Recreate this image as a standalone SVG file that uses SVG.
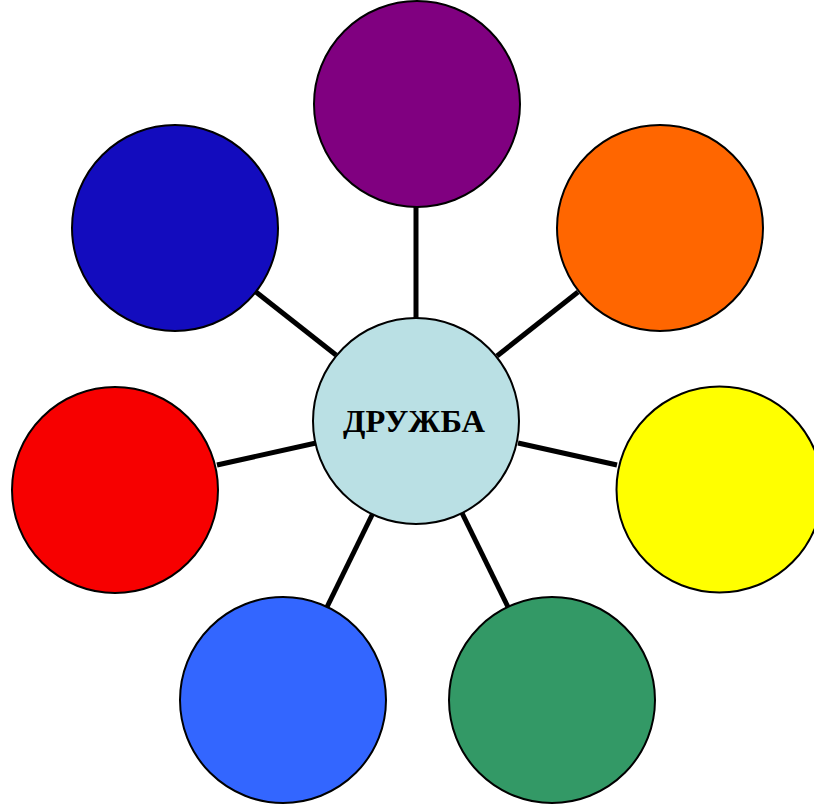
<svg xmlns="http://www.w3.org/2000/svg" width="814" height="805" viewBox="0 0 814 805">
<style>
.n{stroke:#000;stroke-width:2}
.c line{stroke:#000;stroke-width:5}
.t{font-family:"Liberation Serif",serif;font-weight:bold;font-size:32.5px;fill:#000}
</style>
<rect width="814" height="805" fill="#fff"/>
<g class="c" id="connectors">
<line x1="416" y1="207" x2="416" y2="318"/>
<line x1="578" y1="292" x2="497" y2="356"/>
<line x1="617" y1="465" x2="518" y2="443"/>
<line x1="508" y1="607" x2="462" y2="513"/>
<line x1="327" y1="607" x2="373" y2="513"/>
<line x1="217" y1="465" x2="316" y2="443"/>
<line x1="256" y1="292" x2="336" y2="355"/>
</g>
<g id="purple"><circle class="n" cx="417" cy="104" r="103" fill="#800080"/></g>
<g id="orange"><circle class="n" cx="660" cy="228" r="103" fill="#FF6600"/></g>
<g id="yellow"><circle class="n" cx="719.5" cy="489.5" r="103" fill="#FFFF00"/></g>
<g id="green"><circle class="n" cx="552" cy="700" r="103" fill="#339966"/></g>
<g id="lightblue"><circle class="n" cx="283" cy="700" r="103" fill="#3366FF"/></g>
<g id="red"><circle class="n" cx="115" cy="490" r="103" fill="#F70000"/></g>
<g id="darkblue"><circle class="n" cx="175" cy="228" r="103" fill="#130CBE"/></g>
<g id="center"><circle class="n" cx="416" cy="421" r="103" fill="#BAE0E4"/>
<text class="t" x="414" y="432" text-anchor="middle">ДРУЖБА</text></g>
</svg>
